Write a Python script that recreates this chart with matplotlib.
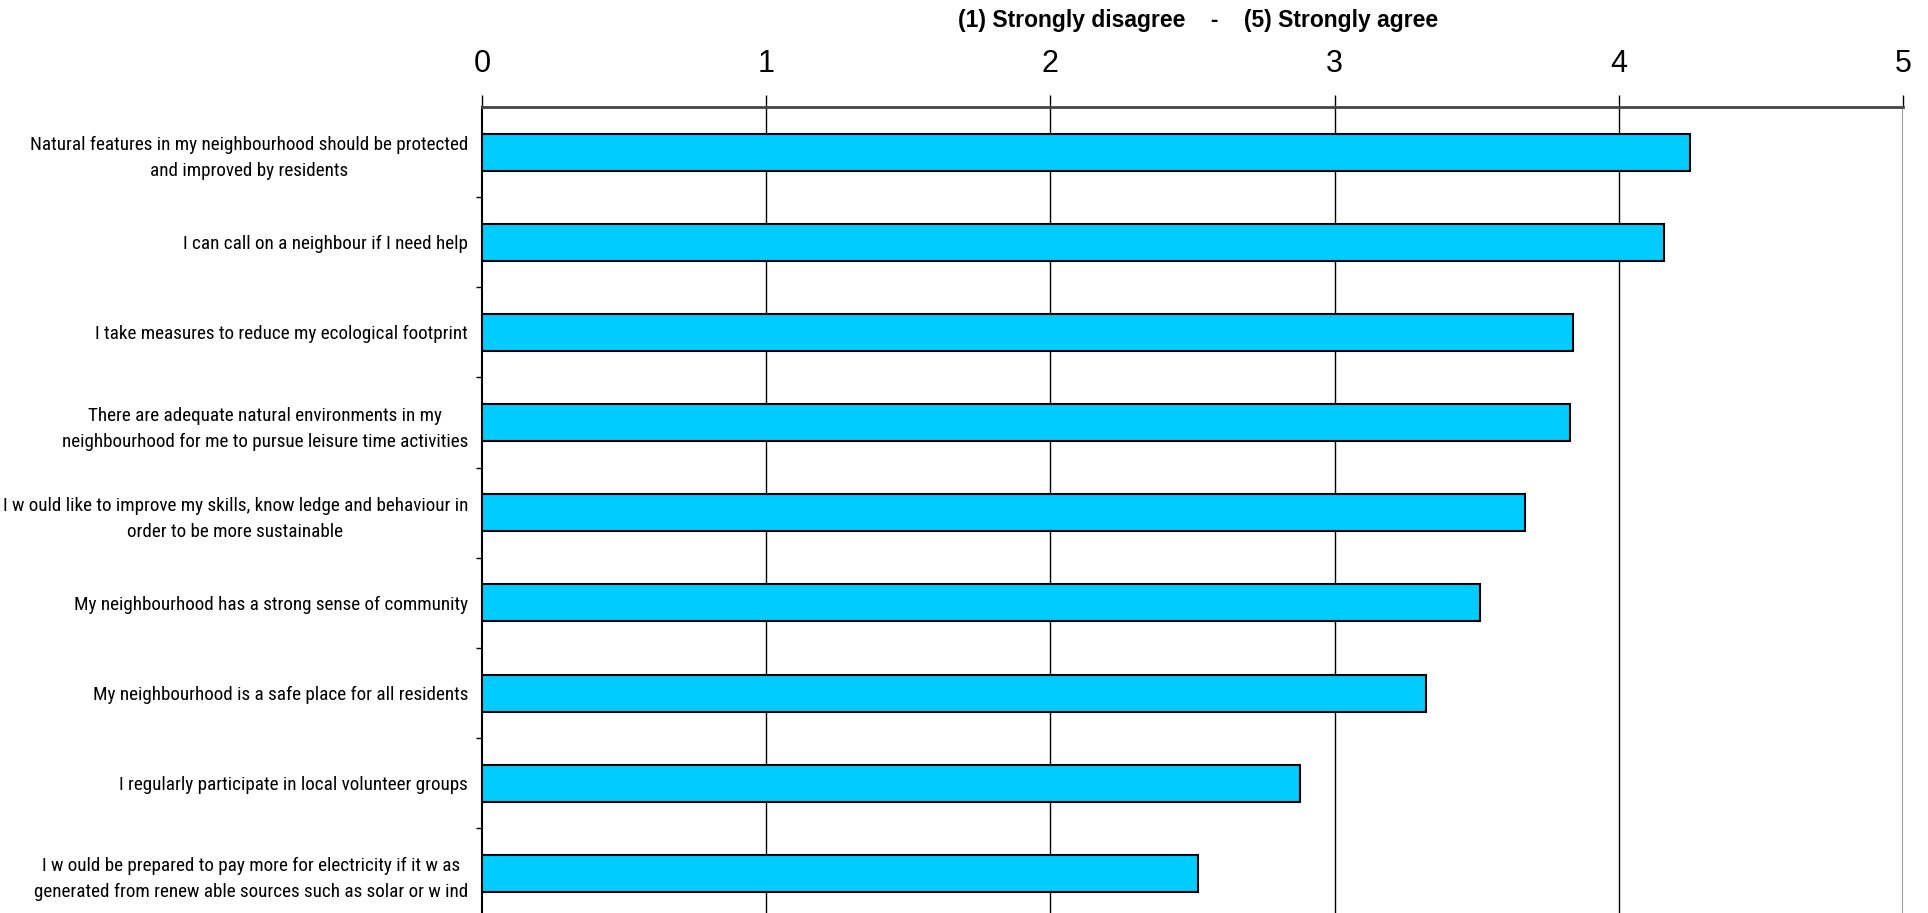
import matplotlib
matplotlib.use("Agg")
import matplotlib.pyplot as plt
from matplotlib.ticker import FixedLocator
from matplotlib import font_manager
from matplotlib.font_manager import FontProperties

plt.rcParams['font.family'] = ['Liberation Sans', 'DejaVu Sans']

categories = [
    "Natural features in my neighbourhood should be protected\nand improved by residents",
    "I can call on a neighbour if I need help",
    "I take measures to reduce my ecological footprint",
    "There are adequate natural environments in my\nneighbourhood for me to pursue leisure time activities",
    "I w ould like to improve my skills, know ledge and behaviour in\norder to be more sustainable",
    "My neighbourhood has a strong sense of community",
    "My neighbourhood is a safe place for all residents",
    "I regularly participate in local volunteer groups",
    "I w ould be prepared to pay more for electricity if it w as\ngenerated from renew able sources such as solar or w ind",
]
values = [4.25, 4.16, 3.84, 3.83, 3.67, 3.51, 3.32, 2.88, 2.52]
x_ticks = [0, 1, 2, 3, 4, 5]
title = "(1) Strongly disagree    -    (5) Strongly agree"

# pick a condensed sans if one is installed
entries = font_manager.fontManager.ttflist
names = {f.name for f in entries}
chosen = None
for nm in ['Liberation Sans Narrow', 'Roboto Condensed', 'Open Sans Condensed']:
    if nm in names:
        chosen = FontProperties(family=nm)
        break
if chosen is None:
    chosen = FontProperties(family='Liberation Sans')

fig = plt.figure(figsize=(19.28, 9.13), dpi=100)
renderer = fig.canvas.get_renderer()
probe_fp = chosen.copy()
probe_fp.set_size(10)
probe = fig.text(0, 0, "Natural features in my neighbourhood should be protected", fontproperties=probe_fp)
w10 = probe.get_window_extent(renderer).width
probe.remove()
label_size = min(15.5, 10 * 437 / w10)
label_fp = chosen.copy()
label_fp.set_size(label_size)
_, lp_h, lp_d = renderer.get_text_width_height_descent("lp", label_fp, ismath=False)
line_sp = 22.0 / (lp_h - lp_d)

ax = fig.add_axes([482/1928, 0, (1903-482)/1928, (913-107)/913])

pos = list(range(len(categories)))
ax.barh(pos, values, height=0.41, color='#00CCFF', edgecolor='black', linewidth=1.5, zorder=3)

ax.set_xlim(0, 5)
ax.set_ylim(8.44, -0.5)

ax.xaxis.tick_top()
ax.set_xticks(x_ticks)
ax.set_xticklabels([str(t) for t in x_ticks], fontsize=22)
ax.tick_params(axis='x', direction='out', length=9, width=1, color='black', pad=11)
for x in x_ticks[1:-1]:
    ax.axvline(x, color='black', linewidth=1, zorder=1)
ax.axvline(5, color='#999999', linewidth=1.5, zorder=1)

ax.set_yticks(pos)
ax.set_yticklabels(categories, fontproperties=label_fp,
                   multialignment='center', linespacing=line_sp)
ax.tick_params(axis='y', which='major', length=0, pad=10)
ax.yaxis.set_minor_locator(FixedLocator([p + 0.5 for p in pos]))
ax.tick_params(axis='y', which='minor', length=4, width=1, direction='out')

ax.spines['right'].set_visible(False)
ax.spines['bottom'].set_visible(False)
ax.spines['top'].set_color('#444444')
ax.spines['top'].set_linewidth(2)
ax.spines['left'].set_color('black')
ax.spines['left'].set_linewidth(1.5)

ax.text(2.52, 1.0 + (107-21)/806, title, transform=ax.get_xaxis_transform(),
        ha='center', va='center', fontsize=16.5, fontweight='bold')

fig.savefig("out.png", dpi=100)
